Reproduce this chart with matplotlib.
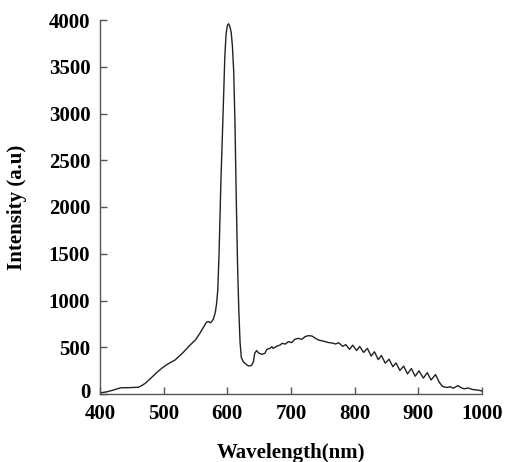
import matplotlib
matplotlib.use("Agg")
import matplotlib.pyplot as plt
import matplotlib.transforms as mtransforms

wavelength = [400, 410, 420, 428, 434, 445, 460, 465, 471, 480, 490, 497, 505, 518, 530, 541,
              550, 557, 563, 567, 570, 574, 578, 581, 583, 585, 587, 590, 592, 594, 596, 598,
              600, 602, 604, 606, 608, 610, 612, 614, 616, 618, 620, 622, 625, 629, 633, 638,
              641, 643, 646, 649, 654, 659, 662, 667, 670, 672, 678, 683, 686, 691, 696, 701,
              706, 711, 717, 722, 727, 733, 737, 743, 748, 754, 759, 765, 770,
              775, 781, 786, 792, 797, 803, 808, 814, 820, 826, 831, 837, 842, 848, 854, 860,
              865, 871, 877, 883, 889, 895, 901, 908, 914, 920, 927, 933,
              938, 945, 950, 955, 962, 967, 972, 978, 985, 990, 995, 1000]
intensity = [12, 22, 40, 58, 67, 68, 72, 88, 114, 170, 235, 275, 315, 364, 440, 520,
             580, 650, 720, 765, 775, 762, 800, 870, 960, 1112, 1500, 2300, 2716, 3150, 3600, 3850,
             3940, 3960, 3930, 3870, 3720, 3450, 2900, 2100, 1400, 900, 550, 390, 346, 320, 300, 305,
             346, 435, 465, 440, 424, 435, 478, 488, 505, 488, 513, 524, 542, 534, 560, 550,
             585, 595, 585, 613, 624, 620, 602, 577, 570, 560, 550, 545, 535,
             548, 510, 528, 478, 522, 465, 508, 445, 488, 405, 452, 368, 412, 330, 372, 292,
             332, 252, 298, 215, 272, 190, 248, 170, 228, 150, 208, 125,
             80, 70, 78, 62, 90, 68, 55, 65, 48, 45, 40, 32]

x_ticks = [400, 500, 600, 700, 800, 900, 1000]
y_ticks = [0, 500, 1000, 1500, 2000, 2500, 3000, 3500, 4000]

plt.rcParams['font.family'] = ['Liberation Serif', 'DejaVu Serif']
plt.rcParams['font.weight'] = 'bold'

fig = plt.figure(figsize=(5.05, 4.62), dpi=100)
ax = fig.add_axes([100/505, (462-394)/462, (482-100)/505, (394-20)/462])
ax.plot(wavelength, intensity, color='#222222', lw=1.0)
ax.set_xlim(400, 1000)
ax.set_ylim(0, 4000)
ax.set_xticks(x_ticks)
ax.set_yticks(y_ticks)
for s in ['top', 'right']:
    ax.spines[s].set_visible(False)
for s in ['left', 'bottom']:
    ax.spines[s].set_color('#555555')
    ax.spines[s].set_linewidth(1.0)
ax.tick_params(direction='in', length=5, width=1, color='#555555', labelsize=15)
ax.tick_params(axis='y', pad=7)
ax.tick_params(axis='x', pad=7)
for lab in ax.get_xticklabels() + ax.get_yticklabels():
    lab.set_fontweight('bold')
# nudge the "0" y tick label up slightly so it does not collide with "400"
ylabs = ax.get_yticklabels()
off = mtransforms.ScaledTranslation(0, 3/100, fig.dpi_scale_trans)
ylabs[0].set_transform(ylabs[0].get_transform() + off)
ax.set_xlabel('Wavelength(nm)', fontsize=15, fontweight='bold')
ax.set_ylabel('Intensity (a.u)', fontsize=15, fontweight='bold')
ax.xaxis.set_label_coords(0.5, (394-443)/374)
ax.yaxis.set_label_coords((27-100)/382, 0.5)
fig.savefig('out.png', dpi=100)
